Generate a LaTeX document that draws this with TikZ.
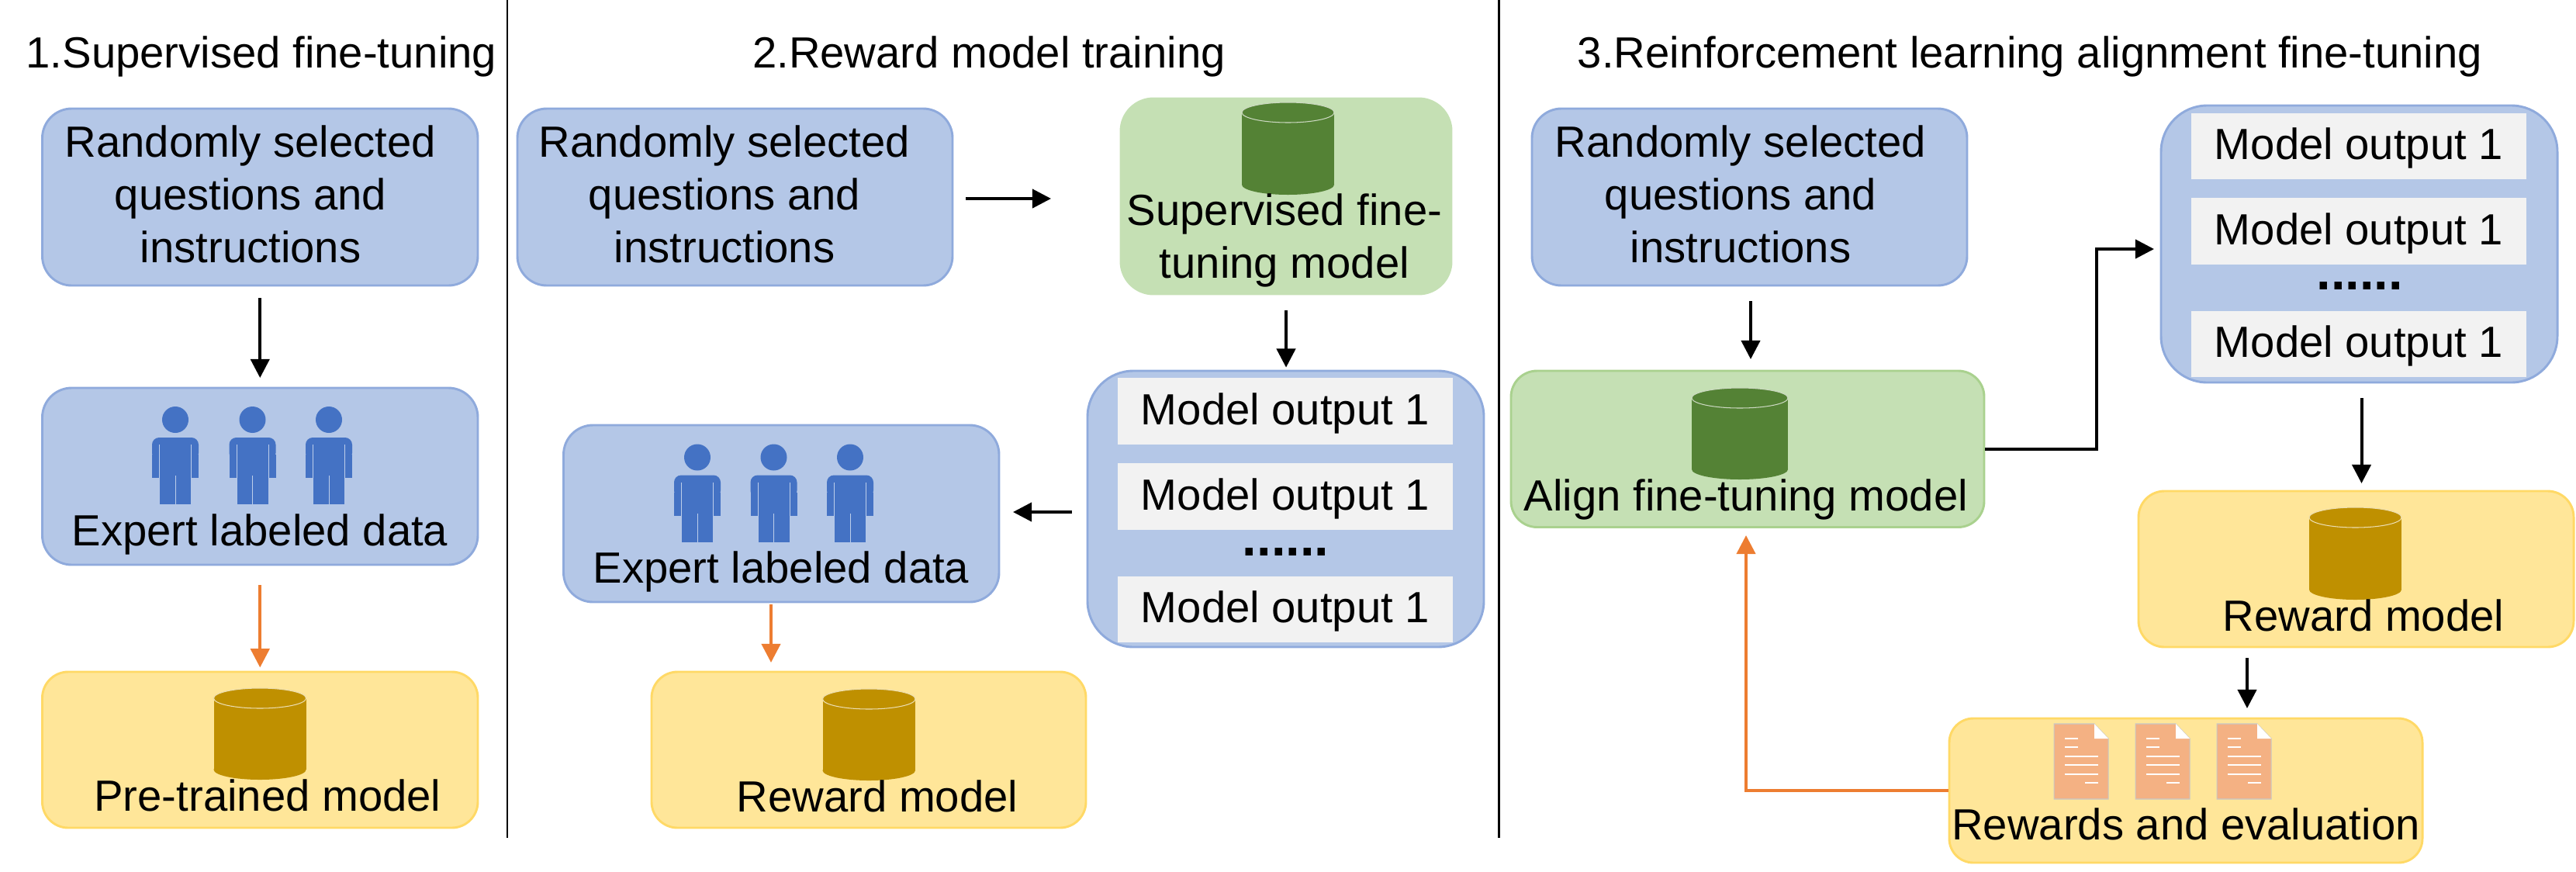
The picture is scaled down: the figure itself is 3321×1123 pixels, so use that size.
\documentclass[tikz,border=0pt]{standalone}
\usepackage{fontspec}
\setmainfont{Liberation Sans}
\usetikzlibrary{arrows.meta,calc}
\definecolor{bluefill}{HTML}{B4C7E7}
\definecolor{blueline}{HTML}{8FAADC}
\definecolor{yelfill}{HTML}{FFE699}
\definecolor{yelline}{HTML}{FFD966}
\definecolor{grnfill}{HTML}{C5E0B4}
\definecolor{grnline}{HTML}{A9D18E}
\definecolor{gold}{HTML}{BF9000}
\definecolor{dkgreen}{HTML}{548235}
\definecolor{person}{HTML}{4472C4}
\definecolor{docfill}{HTML}{F4B183}
\definecolor{rowfill}{HTML}{F2F2F2}
\definecolor{orangearrow}{HTML}{ED7D31}
\tikzset{
  x=0.24pt,y=-0.24pt,
  boxbase/.style={rectangle,inner sep=0pt,line width=0.7pt},
  bluebox/.style={boxbase,fill=bluefill,draw=blueline},
  yelbox/.style={boxbase,fill=yelfill,draw=yelline},
  grnbox/.style={boxbase,fill=grnfill,draw=grnline},
  softgrn/.style={boxbase,fill=grnfill,draw=grnfill},
  rowbox/.style={rectangle,inner sep=0pt,fill=rowfill,font=\fontsize{13.5}{16.3}\selectfont,text height=8.16pt,text depth=0pt},
  lbl/.style={inner sep=0pt,align=center,font=\fontsize{13.5}{16.3}\selectfont},
  one/.style={lbl,anchor=base},
  blackarrow/.style={line width=0.95pt,black,-{Triangle[length=5.8pt,width=5.8pt]}},
  orangeline/.style={line width=0.95pt,orangearrow,-{Triangle[length=5.8pt,width=5.8pt]}},
  divider/.style={line width=0.55pt,black},
  dots/.style={inner sep=0pt,anchor=base,font=\fontsize{16}{16}\selectfont\bfseries},
}
% box: style, name, x1, y1, x2, y2
\newcommand{\bx}[6]{%
  \pgfmathsetmacro{\bw}{(#5-#3)*0.24}%
  \pgfmathsetmacro{\bh}{(#6-#4)*0.24}%
  \pgfmathsetmacro{\br}{min(\bw,\bh)/6}%
  \node[#1,minimum width=\bw pt,minimum height=\bh pt,rounded corners=\br pt] (#2) at ({(#3+#5)/2},{(#4+#6)/2}) {};}
% row: name, x1, y1, x2, y2
\newcommand{\rowb}[5]{%
  \pgfmathsetmacro{\bw}{(#4-#2)*0.24}%
  \pgfmathsetmacro{\bh}{(#5-#3)*0.24}%
  \node[rowbox,minimum width=\bw pt,minimum height=\bh pt] (#1) at ({(#2+#4)/2},{(#3+#5)/2}) {Model output 1\hspace{1.4pt}};}
% cylinder: x1,y1,x2,y2,colour
\newcommand{\cyl}[5]{%
  \pgfmathsetmacro{\cx}{(#1+#3)/2}%
  \pgfmathsetmacro{\rx}{(#3-#1)/2}%
  \fill[#5] (#1,#2+13) rectangle (#3,#4-13);
  \fill[#5] (\cx,#4-13) ellipse [x radius=\rx,y radius=13];
  \filldraw[fill=#5,draw=white!70!#5,line width=0.25pt] (\cx,#2+13) ellipse [x radius=\rx,y radius=13];}
% person: centre x, head centre y
\newcommand{\pers}[2]{%
  \begin{scope}[shift={(#1,#2)}]
    \fill[person] (0,0) circle [radius=17];
    \fill[person,rounded corners=2.2pt] (-30,52) -- (-30,23) -- (30,23) -- (30,52) -- cycle;
    \fill[person] (-30,45) rectangle (30,75);
    \fill[person] (-20,60) rectangle (20,109);
    \draw[white!65!person,line width=0.2pt] (0,72) -- (0,109) (-20.5,32) -- (-20.5,75) (20.5,32) -- (20.5,75);
  \end{scope}}
% document: left x
\newcommand{\docu}[1]{%
  \begin{scope}[shift={(#1,933)}]
    \filldraw[fill=docfill,draw=black!22,line width=0.25pt] (0,0) -- (52,0) -- (70,19) -- (70,97) -- (0,97) -- cycle;
    \fill[white] (52,0) -- (70,19) -- (52,19) -- cycle;
    \draw[white,line width=0.5pt] (14,19) -- (31,19) (14,30) -- (31,30) (14,42) -- (57,42) (14,53) -- (57,53) (14,65) -- (57,65) (40,76) -- (57,76);
  \end{scope}}
\begin{document}
\begin{tikzpicture}
\useasboundingbox (0,0) rectangle (3321,1123);
\coordinate (d1t) at (654,0); \coordinate (d1b) at (654,1080);
\coordinate (d2t) at (1932.5,0); \coordinate (d2b) at (1932.5,1080);
\draw[divider] (d1t) -- (d1b);
\draw[divider] (d2t) -- (d2b);
% titles
\node[one] (t1) at (337,87) {1.Supervised fine-tuning};
\node[one] (t2) at (1275,87) {2.Reward model training};
\node[one] (t3) at (2617,87) {3.Reinforcement learning alignment fine-tuning};
% panel 1
\bx{bluebox}{q1}{54.5}{140}{616}{368}
\bx{bluebox}{e1}{54.5}{500}{616}{728}
\bx{yelbox}{m1}{54.5}{866}{616}{1067}
\node[lbl] (q1t) at (323,250) {Randomly selected\\questions and\\instructions};
\pers{226}{541}\pers{325.5}{541}\pers{424}{541}
\node[one] (e1t) at (335,703) {Expert labeled data};
\cyl{275.5}{887}{394.6}{1005}{gold}
\node[one] (m1t) at (345,1045.5) {Pre-trained model};
\draw[blackarrow,shorten <=3.6pt,shorten >=2.76pt] (q1.south) -- (e1.north);
\draw[orangeline,shorten <=5.9pt,shorten >=1pt] (e1.south) -- (m1.north);
% panel 2
\bx{bluebox}{q2}{667}{140}{1228}{368}
\bx{softgrn}{s2}{1445}{127}{1871}{379}
\bx{bluebox}{r2}{1402}{478}{1913}{834}
\bx{bluebox}{e2}{726.5}{548}{1288}{776}
\bx{yelbox}{m2}{840}{866}{1400}{1067}
\node[lbl] (q2t) at (934,250) {Randomly selected\\questions and\\instructions};
\cyl{1601}{132}{1720}{251}{dkgreen}
\node[lbl] (s2t) at (1656,309.5) {Supervised fine-\\tuning model};
\rowb{r2a}{1441}{487}{1873}{573}
\rowb{r2b}{1441}{597}{1873}{683}
\rowb{r2c}{1441}{743}{1873}{828}
\node[dots] (r2d) at (1657.5,716) {......};
\pers{899}{589.5}\pers{997.5}{589.5}\pers{1096}{589.5}
\node[one] (e2t) at (1007,751) {Expert labeled data};
\cyl{1060.5}{888}{1180}{1006}{gold}
\node[one] (m2t) at (1131,1046) {Reward model};
\coordinate (a2s) at (1245,256); \coordinate (a2e) at (1355,256);
\draw[blackarrow] (a2s) -- (a2e);
\draw[blackarrow,shorten <=4.8pt,shorten >=0.7pt] (s2.south) -- (s2.south |- r2.north);
\coordinate (r2o) at (1382,660); \coordinate (e2i) at (1306,660);
\draw[blackarrow] (r2o) -- (e2i);
\coordinate (o2s) at (994,779); \coordinate (o2e) at (994,854);
\draw[orangeline] (o2s) -- (o2e);
% panel 3
\bx{bluebox}{q3}{1975}{140}{2536}{368}
\bx{grnbox}{g3}{1948}{478}{2558}{679.5}
\bx{bluebox}{r3}{2786}{136}{3297}{493}
\bx{yelbox}{m3}{2757}{633}{3318}{834}
\bx{yelbox}{w3}{2513}{926}{3123}{1112}
\node[lbl] (q3t) at (2244,250) {Randomly selected\\questions and\\instructions};
\cyl{2181}{500}{2305}{618}{dkgreen}
\node[one] (g3t) at (2251,658) {Align fine-tuning model};
\rowb{r3a}{2825}{146}{3257}{231}
\rowb{r3b}{2825}{255}{3257}{341}
\rowb{r3c}{2825}{401}{3257}{486}
\node[dots] (r3d) at (3042,373) {......};
\cyl{2977}{654}{3096}{773}{gold}
\node[one] (m3t) at (3047,813) {Reward model};
\docu{2648}\docu{2753}\docu{2858}
\node[one] (w3t) at (2818,1082) {Rewards and evaluation};
\coordinate (q3o) at (2257,388); \coordinate (g3i) at (2257,463);
\draw[blackarrow] (q3o) -- (g3i);
\coordinate (c3b) at (2703,321); \coordinate (c3e) at (2777,321);
\draw[blackarrow] (g3.east) -| (c3b) -- (c3e);
\coordinate (r3o) at (3044.5,513); \coordinate (m3i) at (3044.5,623);
\draw[blackarrow] (r3o) -- (m3i);
\coordinate (m3o) at (2897,848); \coordinate (w3i) at (2897,913);
\draw[blackarrow] (m3o) -- (w3i);
\coordinate (g3o) at (2251,690);
\draw[orangeline] (w3.west) -| (g3o);
\end{tikzpicture}
\end{document}
